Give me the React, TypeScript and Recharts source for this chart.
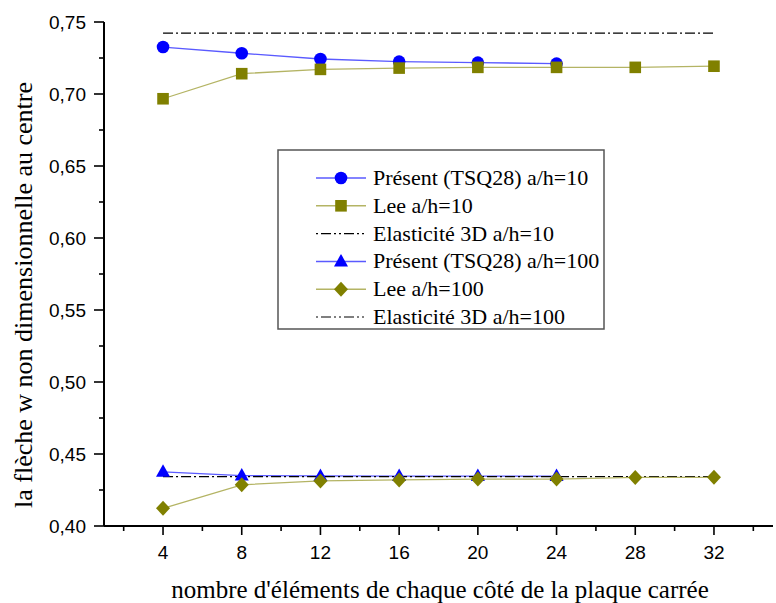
import { LineChart, Line, XAxis, YAxis, Label } from "recharts";

const nValues = [4, 8, 12, 16, 20, 24, 28, 32];
const present10 = [0.7326, 0.7283, 0.7243, 0.7225, 0.7218, 0.7211, null, null];
const lee10 = [0.6967, 0.7141, 0.7171, 0.718, 0.7185, 0.7185, 0.7185, 0.7193];
const elas10 = [0.7423, 0.7423, 0.7423, 0.7423, 0.7423, 0.7423, 0.7423, 0.7423];
const present100 = [0.4376, 0.435, 0.4348, 0.4347, 0.4347, 0.4347, null, null];
const lee100 = [0.4123, 0.4286, 0.4313, 0.432, 0.4326, 0.4326, 0.4337, 0.4338];
const elas100 = [0.4343, 0.4343, 0.4343, 0.4343, 0.4343, 0.4343, 0.4343, 0.4343];

const xTicks = [2, 4, 6, 8, 10, 12, 14, 16, 18, 20, 22, 24, 26, 28, 30, 32, 34];
const yTicks = [0.4, 0.425, 0.45, 0.475, 0.5, 0.525, 0.55, 0.575, 0.6, 0.625, 0.65, 0.675, 0.7, 0.725, 0.75];

const legendItems = [
  { name: "Présent (TSQ28) a/h=10", marker: "circle", kind: "blue" },
  { name: "Lee a/h=10", marker: "square", kind: "olive" },
  { name: "Elasticité 3D a/h=10", marker: "none", kind: "dash" },
  { name: "Présent (TSQ28) a/h=100", marker: "triangle", kind: "blue" },
  { name: "Lee a/h=100", marker: "diamond", kind: "olive" },
  { name: "Elasticité 3D a/h=100", marker: "none", kind: "dash" },
];

const data = nValues.map((n, i) => ({
  n,
  present10: present10[i],
  lee10: lee10[i],
  elas10: elas10[i],
  present100: present100[i],
  lee100: lee100[i],
  elas100: elas100[i],
}));

const BLUE = "#0000ff";
const BLUE_LINE = "#5a5aff";
const OLIVE = "#808000";
const OLIVE_LINE = "#b4b464";
const DASH = "10 3 2 3";
const SANS = "Liberation Sans";
const SERIF = "Liberation Serif";

const Marker = ({ type, cx, cy }: { type: string; cx: number; cy: number }) => {
  if (type === "circle") return <circle cx={cx} cy={cy} r={6.3} fill={BLUE} />;
  if (type === "square")
    return <rect x={cx - 5.8} y={cy - 5.8} width={11.6} height={11.6} fill={OLIVE} />;
  if (type === "triangle")
    return <polygon points={`${cx},${cy - 7.5} ${cx - 7},${cy + 5} ${cx + 7},${cy + 5}`} fill={BLUE} />;
  if (type === "diamond")
    return <polygon points={`${cx},${cy - 7.5} ${cx + 7},${cy} ${cx},${cy + 7.5} ${cx - 7},${cy}`} fill={OLIVE} />;
  return null;
};

const dotOf = (type: string) => (p: any) => {
  if (p.cy == null || p.value == null) return <g key={p.index} />;
  return (
    <g key={p.index}>
      <Marker type={type} cx={p.cx} cy={p.cy} />
    </g>
  );
};

// major ticks every 4 with labels, minor in between
const XTick = (props: any) => {
  const { x, y, payload } = props;
  const major = payload.value % 4 === 0;
  return (
    <g>
      <line x1={x} x2={x} y1={y} y2={y + (major ? 9 : 5)} stroke="#000" strokeWidth={1.6} />
      {major && (
        <text x={x} y={y + 33} textAnchor="middle" fontFamily={SANS} fontSize={19} fill="#000">
          {payload.value}
        </text>
      )}
    </g>
  );
};

const YTick = (props: any) => {
  const { x, y, payload } = props;
  const v = payload.value;
  const major = Math.abs(Math.round(v * 20) - v * 20) < 1e-6;
  return (
    <g>
      <line x1={x - (major ? 10 : 5)} x2={x} y1={y} y2={y} stroke="#000" strokeWidth={1.6} />
      {major && (
        <text x={x - 18} y={y + 7} textAnchor="end" fontFamily={SANS} fontSize={19} fill="#000">
          {v.toFixed(2).replace(".", ",")}
        </text>
      )}
    </g>
  );
};

const LegendBox = () => (
  <svg width={330} height={182} style={{ position: "absolute", left: 277, top: 149 }}>
    <rect x={1} y={1} width={326} height={179} fill="#fff" stroke="#555" strokeWidth={1.5} />
    {legendItems.map((it, i) => {
      const cy = 29 + i * 27.8;
      const stroke = it.kind === "blue" ? BLUE_LINE : it.kind === "olive" ? OLIVE_LINE : "#000";
      return (
        <g key={it.name}>
          <line
            x1={39}
            x2={89}
            y1={cy}
            y2={cy}
            stroke={stroke}
            strokeWidth={it.kind === "dash" ? 1.2 : 1.5}
            strokeDasharray={it.kind === "dash" ? "2 3 10 3 2 3" : undefined}
          />
          <Marker type={it.marker} cx={64} cy={cy} />
          <text x={96} y={cy + 7} fontFamily={SERIF} fontSize={22} fill="#000">
            {it.name}
          </text>
        </g>
      );
    })}
  </svg>
);

export default function App() {
  return (
    <div style={{ position: "absolute", left: 0, top: 0, width: 776, height: 603, background: "#fff" }}>
      <LineChart width={776} height={603} data={data} margin={{ top: 22, right: 3, bottom: 0, left: 0 }}>
        <XAxis
          dataKey="n"
          type="number"
          domain={[1, 35]}
          ticks={xTicks}
          interval={0}
          height={77}
          tickSize={0}
          tickMargin={0}
          tickLine={false}
          tick={<XTick />}
          axisLine={{ stroke: "#000", strokeWidth: 2 }}
        >
          <Label
            content={() => (
              <text x={440} y={598} textAnchor="middle" fontFamily={SERIF} fontSize={25} fill="#000">
                nombre d'éléments de chaque côté de la plaque carrée
              </text>
            )}
          />
        </XAxis>
        <XAxis xAxisId="top" orientation="top" dataKey="n" type="number" domain={[1, 35]} height={0} tick={false} tickLine={false} axisLine={{ stroke: "#000", strokeWidth: 2 }} />
        <YAxis
          type="number"
          domain={[0.4, 0.75]}
          ticks={yTicks}
          interval={0}
          width={104}
          allowDataOverflow
          tickSize={0}
          tickMargin={0}
          tickLine={false}
          tick={<YTick />}
          axisLine={{ stroke: "#000", strokeWidth: 2 }}
        >
          <Label
            content={() => (
              <text x={32} y={295} textAnchor="middle" transform="rotate(-90 32 295)" fontFamily={SERIF} fontSize={26} fill="#000">
                la flèche w non dimensionnelle au centre
              </text>
            )}
          />
        </YAxis>
        <YAxis yAxisId="right" orientation="right" domain={[0.4, 0.75]} width={0} tick={false} tickLine={false} axisLine={{ stroke: "#000", strokeWidth: 2 }} />
        <Line dataKey="present10" stroke={BLUE_LINE} strokeWidth={1.3} dot={dotOf("circle")} isAnimationActive={false} />
        <Line dataKey="lee10" stroke={OLIVE_LINE} strokeWidth={1.3} dot={dotOf("square")} isAnimationActive={false} />
        <Line dataKey="elas10" stroke="#000" strokeWidth={1.2} strokeDasharray={DASH} dot={false} isAnimationActive={false} />
        <Line dataKey="present100" stroke={BLUE_LINE} strokeWidth={1.3} dot={dotOf("triangle")} isAnimationActive={false} />
        <Line dataKey="elas100" stroke="#000" strokeWidth={1.2} strokeDasharray={DASH} dot={false} isAnimationActive={false} />
        <Line dataKey="lee100" stroke={OLIVE_LINE} strokeWidth={1.3} dot={dotOf("diamond")} isAnimationActive={false} />
      </LineChart>
      <LegendBox />
    </div>
  );
}
